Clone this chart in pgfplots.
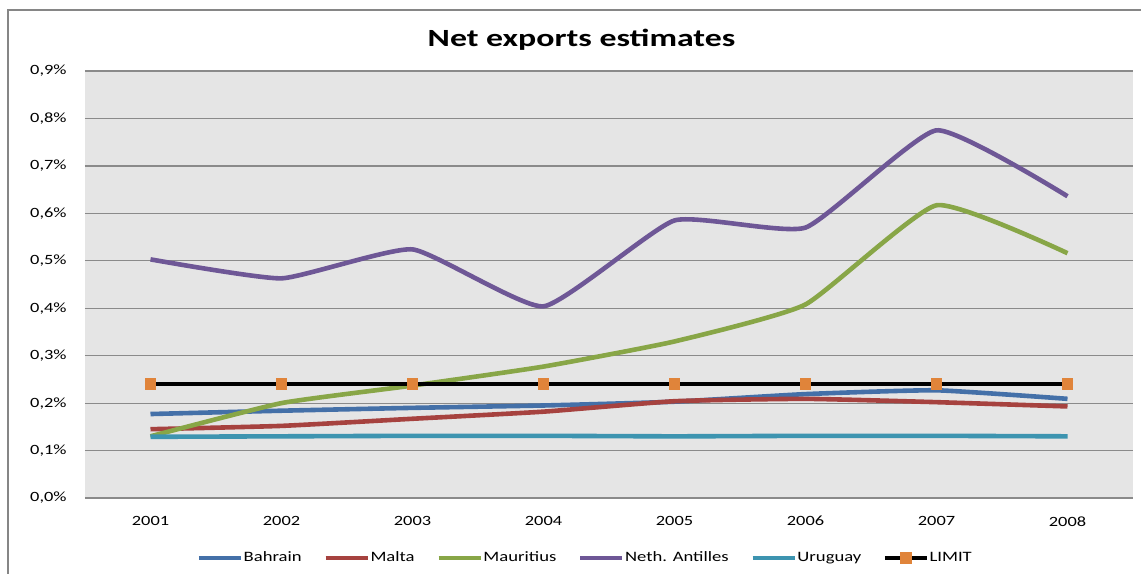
\documentclass[border=0pt]{standalone}
\usepackage{fontspec}
\setmainfont{Carlito}[FakeStretch=1.3]
\newfontfamily\titlefont{Carlito}[FakeStretch=1.37]
\usepackage{pgfplots}
\pgfplotsset{compat=1.18}
\definecolor{cBah}{HTML}{4470A8}
\definecolor{cMal}{HTML}{A6423F}
\definecolor{cMau}{HTML}{88A647}
\definecolor{cNet}{HTML}{6E5796}
\definecolor{cUru}{HTML}{3D94B0}
\definecolor{cLim}{HTML}{E0843A}
\definecolor{gridc}{HTML}{8A8A8A}
\definecolor{bgc}{HTML}{E5E5E5}
\definecolor{framec}{HTML}{868686}
\begin{document}
\begin{tikzpicture}
\path[use as bounding box] (-42.5bp,-38bp) rectangle (528bp,249bp);
\fill[white] (-42.5bp,-38bp) rectangle (528bp,249bp);
\draw[color=framec, line width=0.65bp] (-38.5bp,-38bp) -- (-38.5bp,244bp) -- (528bp,244bp);
\begin{axis}[
  at={(0,0)}, anchor=south west,
  width=524bp, height=213.5bp, scale only axis,
  xmin=2000.5, xmax=2008.5, ymin=0, ymax=0.9,
  xtick={2001,2002,2003,2004,2005,2006,2007,2008},
  xticklabels={2001,2002,2003,2004,2005,2006,2007,2008},
  ytick={0,0.1,0.2,0.3,0.4,0.5,0.6,0.7,0.8,0.9},
  yticklabels={{0,0\%},{0,1\%},{0,2\%},{0,3\%},{0,4\%},{0,5\%},{0,6\%},{0,7\%},{0,8\%},{0,9\%}},
  major tick length=0pt,
  axis line style={draw=none},
  ymajorgrids,
  major grid style={draw=gridc, line width=0.6bp},
  axis background/.style={fill=bgc},
  tick label style={font=\fontsize{7.1}{8}\selectfont, inner sep=0pt},
  yticklabel style={xshift=-9bp},
  xticklabel style={yshift=-9bp},
  legend columns=-1,
  legend style={draw=none, fill=none, at={(0.4766,-0.1405)}, anchor=center,
    font=\fontsize{7.2}{8}\selectfont,
    /tikz/every even column/.append style={column sep=10.5bp},
    nodes={inner sep=0.3bp}},
  legend image code/.code={\draw[mark repeat=2,mark phase=2,#1] plot coordinates {(0bp,0bp) (10.5bp,0bp) (21bp,0bp)};},
  every axis plot/.append style={line width=2.3bp},
]
\addplot[cBah, smooth, /tikz/tension=0.28, no markers] coordinates {(2001,0.177) (2002,0.184) (2003,0.190) (2004,0.195) (2005,0.203) (2006,0.219) (2007,0.227) (2008,0.209)};
\addlegendentry{Bahrain}
\addplot[cMal, smooth, /tikz/tension=0.28, no markers] coordinates {(2001,0.145) (2002,0.152) (2003,0.167) (2004,0.182) (2005,0.204) (2006,0.209) (2007,0.202) (2008,0.193)};
\addlegendentry{Malta}
\addplot[cMau, smooth, /tikz/tension=0.28, no markers] coordinates {(2001,0.130) (2002,0.200) (2003,0.237) (2004,0.277) (2005,0.330) (2006,0.408) (2007,0.617) (2008,0.516)};
\addlegendentry{Mauritius}
\addplot[cNet, smooth, /tikz/tension=0.28, no markers] coordinates {(2001,0.503) (2002,0.463) (2003,0.524) (2004,0.404) (2005,0.585) (2006,0.570) (2007,0.775) (2008,0.636)};
\addlegendentry{Neth. Antilles}
\addplot[cUru, smooth, /tikz/tension=0.28, no markers] coordinates {(2001,0.129) (2002,0.130) (2003,0.131) (2004,0.131) (2005,0.130) (2006,0.131) (2007,0.131) (2008,0.130)};
\addlegendentry{Uruguay}
\addplot[black, line width=2bp, mark=square*, mark size=2.7bp, mark options={fill=cLim, draw=cLim, line width=0pt}] coordinates {(2001,0.241) (2002,0.241) (2003,0.241) (2004,0.241) (2005,0.241) (2006,0.241) (2007,0.241) (2008,0.241)};
\addlegendentry{LIMIT}
\end{axis}
\node[font={\titlefont\bfseries\fontsize{12.4}{14}\selectfont}, anchor=base, inner sep=0pt] at (248.25bp,225.5bp) {Net exports estimates};
\end{tikzpicture}
\end{document}
